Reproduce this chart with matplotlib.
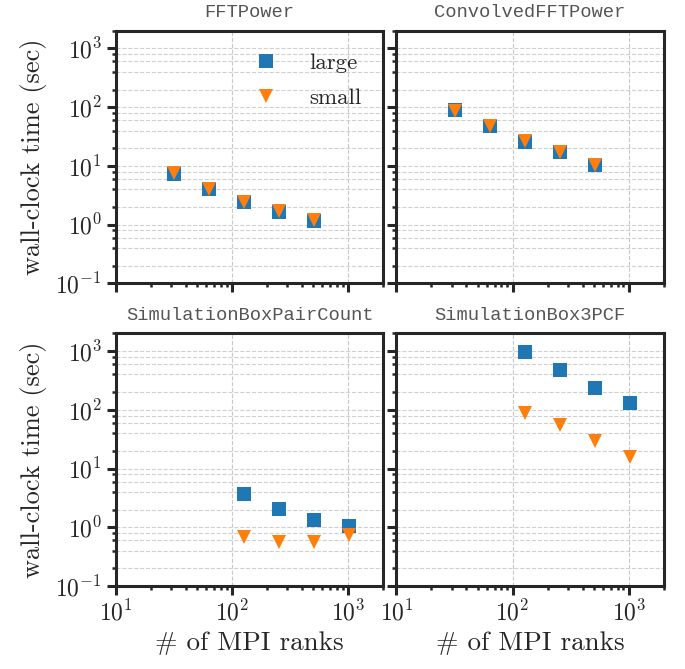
import matplotlib
matplotlib.use("Agg")
import matplotlib.pyplot as plt
from matplotlib.ticker import LogLocator, NullFormatter
import numpy as np

# ---- data ----
titles = ["FFTPower", "ConvolvedFFTPower", "SimulationBoxPairCount", "SimulationBox3PCF"]
ranks_fft = [32, 64, 128, 256, 512]
ranks_pc = [128, 256, 512, 1024]

fft_large = [7.4, 4.0, 2.4, 1.67, 1.17]
fft_small = [7.5, 4.1, 2.45, 1.7, 1.2]
conv_large = [88, 47, 26, 17, 10.2]
conv_small = [87, 47, 26.5, 17.5, 10.5]
pc_large = [3.74, 2.08, 1.35, 1.04]
pc_small = [0.68, 0.56, 0.556, 0.74]
tpcf_large = [970, 480, 237, 132]
tpcf_small = [88, 55, 29.5, 16]

series = [
    (ranks_fft, fft_large, fft_small),
    (ranks_fft, conv_large, conv_small),
    (ranks_pc, pc_large, pc_small),
    (ranks_pc, tpcf_large, tpcf_small),
]
labels = ["large", "small"]
blue = "#1f77b4"
orange = "#ff7f0e"
ink = "#262626"

plt.rcParams["mathtext.fontset"] = "cm"
plt.rcParams["axes.unicode_minus"] = False
plt.rcParams["font.family"] = ["cmr10", "DejaVu Serif"]

fig, axes = plt.subplots(2, 2, figsize=(6.85, 6.69), dpi=100, sharex=True, sharey=True)
fig.subplots_adjust(left=0.169, right=0.969, top=0.954, bottom=0.124, wspace=0.049, hspace=0.198)

for i, ax in enumerate(axes.flat):
    x, yl, ys = series[i]
    ax.set_xscale("log")
    ax.set_yscale("log")
    ax.plot(x, yl, ls="none", marker="s", ms=10.6, mew=0, color=blue, label=labels[0], zorder=3)
    ax.plot(x, ys, ls="none", marker="v", ms=10.6, mew=0, color=orange, label=labels[1], zorder=4)
    ax.set_xlim(10, 2000)
    ax.set_ylim(0.1, 2000)
    ax.yaxis.set_major_locator(LogLocator(base=10, numticks=10))
    ax.yaxis.set_minor_locator(LogLocator(base=10, subs=(2, 4, 6, 8), numticks=20))
    ax.xaxis.set_major_locator(LogLocator(base=10, numticks=10))
    ax.xaxis.set_minor_locator(LogLocator(base=10, subs=np.arange(2, 10), numticks=20))
    ax.yaxis.set_minor_formatter(NullFormatter())
    ax.xaxis.set_minor_formatter(NullFormatter())
    ax.grid(True, which="major", axis="x", ls="--", lw=0.8, color="#c8c8c8")
    ax.grid(True, which="both", axis="y", ls="--", lw=0.8, color="#d0d0d0")
    ax.set_axisbelow(True)
    for sp in ax.spines.values():
        sp.set_linewidth(2.2)
        sp.set_color(ink)
    ax.tick_params(which="major", direction="out", length=6.5, width=2.2, color=ink,
                   labelsize=17, labelcolor=ink, top=False, right=False)
    ax.tick_params(which="minor", direction="out", length=3.2, width=1.8, color=ink,
                   top=False, right=False)
    ax.set_title(titles[i], family=["Liberation Mono", "DejaVu Sans Mono"], fontsize=13.5,
                 color="#555555", pad=10)

for ax in axes[:, 0]:
    ax.set_ylabel("wall-clock time (sec)", fontsize=19, color=ink, labelpad=6)
for ax in axes[1, :]:
    ax.set_xlabel("# of MPI ranks", fontsize=19.5, color=ink)

leg = axes[0, 0].legend(loc="upper right", frameon=False, fontsize=16.5, numpoints=1,
                        handletextpad=0.9, labelspacing=0.65, borderaxespad=0.75,
                        borderpad=0.2)
for t in leg.get_texts():
    t.set_color(ink)

fig.savefig("out.png", dpi=100)
